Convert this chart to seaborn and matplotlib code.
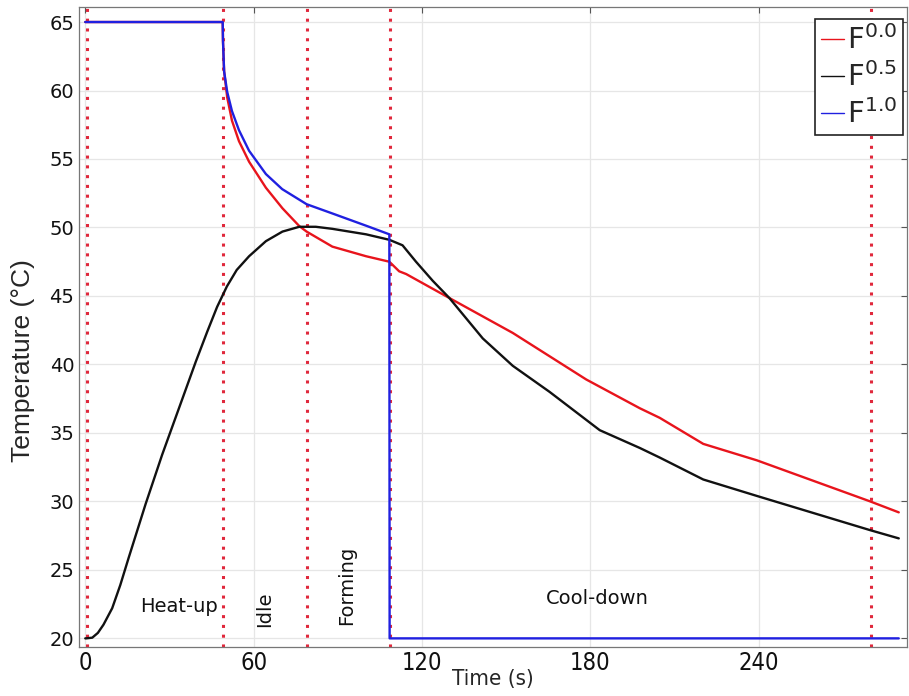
import matplotlib
matplotlib.use("Agg")
import matplotlib.pyplot as plt
from matplotlib import font_manager
import seaborn as sns
import pandas as pd

# ---- data ----
t_f00 = [0, 49, 49.1, 49.5, 50.6, 52.3, 54.8, 58.4, 64.4, 70.3, 76.3, 78.9, 88.1,
         100.1, 108.4, 111.9, 114.4, 129.8, 152.4, 178.6, 197.7, 204.8, 220.3,
         239.4, 279.8, 290]
T_f00 = [65, 65, 63.6, 61.4, 59.5, 57.8, 56.3, 54.8, 52.9, 51.4, 50.1, 49.7, 48.6,
         47.9, 47.5, 46.8, 46.6, 44.85, 42.3, 38.9, 36.8, 36.1, 34.2,
         33.0, 30.0, 29.2]

t_f05 = [0, 0.3, 2.5, 4.5, 6.5, 9.6, 12.5, 15.5, 21.5, 27.4, 33.4, 39.4, 43.5, 47,
         50.5, 54, 58.4, 64.4, 70.3, 76.3, 82.2, 88.1, 100.1, 108.4, 113.1, 117.9,
         123.9, 129.8, 141.7, 152.4, 165.5, 183.4, 197.7, 204.8, 220.3, 239.4,
         279.8, 290]
T_f05 = [20.0, 20.0, 20.05, 20.4, 21.0, 22.2, 23.9, 25.9, 29.8, 33.4, 36.8, 40.2,
         42.4, 44.2, 45.7, 46.9, 47.9, 49.0, 49.7, 50.05, 50.05, 49.9, 49.5, 49.1,
         48.7, 47.5, 46.1, 44.85, 41.9, 39.9, 38.0, 35.2, 33.9, 33.2, 31.6, 30.4,
         27.9, 27.3]

t_f10 = [0, 49, 49.1, 49.5, 50.6, 52.3, 54.8, 58.4, 64.4, 70.2, 78.9, 88.4,
         100.5, 108.4, 108.5, 290]
T_f10 = [65, 65, 63.6, 61.4, 59.9, 58.5, 57.1, 55.6, 53.9, 52.8, 51.7, 51.0,
         50.1, 49.5, 20, 20]

series_labels = [r"F$^{0.0}$", r"F$^{0.5}$", r"F$^{1.0}$"]
series_colors = ["#e8141c", "#111111", "#2020e0"]

phase_bounds = [0.5, 49, 79, 108.5, 280]
phase_names = ["Heat-up", "Idle", "Forming", "Cool-down"]
phase_text_x = [33.5, 64, 93, 182.7]
phase_text_y = [22.3, 22.1, 23.9, 22.9]
phase_text_rot = [0, 90, 90, 0]

x_ticks = [0, 60, 120, 180, 240]
y_ticks = [20, 25, 30, 35, 40, 45, 50, 55, 60, 65]

# ---- build long table ----
frames = []
for tt, TT, lab in zip([t_f00, t_f05, t_f10], [T_f00, T_f05, T_f10], series_labels):
    frames.append(pd.DataFrame({"Time": tt, "Temp": TT, "Series": lab}))
df = pd.concat(frames, ignore_index=True)

sns.set_style("white")
plt.rcParams["font.family"] = ["DejaVu Sans"]


def narrow_props(size):
    for fam, stretch in [("Liberation Sans Narrow", "normal"),
                         ("DejaVu Sans", "condensed")]:
        try:
            path = font_manager.findfont(
                font_manager.FontProperties(family=fam, stretch=stretch),
                fallback_to_default=False)
            if "Narrow" in path or "Condensed" in path:
                return font_manager.FontProperties(fname=path, size=size)
        except Exception:
            pass
    return font_manager.FontProperties(family="Liberation Sans", size=size)


fig = plt.figure(figsize=(9.09, 6.96), dpi=100)
ax = fig.add_axes([0.087, 0.071, 0.911, 0.919])

for xb in phase_bounds:
    ax.axvline(xb, color="#e0283c", linestyle=(0, (1, 2.2)), linewidth=2.2, zorder=1)

sns.lineplot(data=df, x="Time", y="Temp", hue="Series", palette=series_colors,
             hue_order=series_labels, sort=False, estimator=None, linewidth=1.7,
             ax=ax, zorder=3)
ax.get_lines()[-1].set_linewidth(2.0)

for name, xx, yy, rot in zip(phase_names, phase_text_x, phase_text_y, phase_text_rot):
    ax.text(xx, yy, name, rotation=rot, ha="center", va="center", fontsize=14,
            color="#111111", zorder=4)

ax.set_xlim(-2.2, 293)
ax.set_ylim(19.4, 66.1)
ax.set_xticks(x_ticks)
ax.set_yticks(y_ticks)
ax.grid(True, color="#e6e6e6", linewidth=0.9, zorder=0)
ax.set_axisbelow(True)
ax.tick_params(direction="in", length=4, width=0.8, top=True, right=True,
               colors="#555555", labelcolor="#111111")
for lab in ax.get_yticklabels():
    lab.set_fontsize(14)
xfp = narrow_props(17)
for lab in ax.get_xticklabels():
    lab.set_fontproperties(xfp)
ax.tick_params(axis="x", pad=3)
for sp in ax.spines.values():
    sp.set_color("#777777")
    sp.set_linewidth(0.9)

ax.set_xlabel("Time (s)", fontproperties=narrow_props(16), labelpad=-4)
ax.set_ylabel("Temperature (°C)", fontsize=19, family="Liberation Sans")
ax.yaxis.set_label_coords(-0.053, 0.447)

leg = ax.legend(loc="upper right", bbox_to_anchor=(1.0, 0.988), fontsize=21,
                handlelength=0.8, handletextpad=0.1,
                borderpad=0.2, labelspacing=0.25, borderaxespad=0.15,
                fancybox=False, framealpha=1, edgecolor="#222222")
leg.get_frame().set_linewidth(1.2)
for h in leg.get_lines():
    h.set_linewidth(1.0)

fig.savefig("out.png", dpi=100)
